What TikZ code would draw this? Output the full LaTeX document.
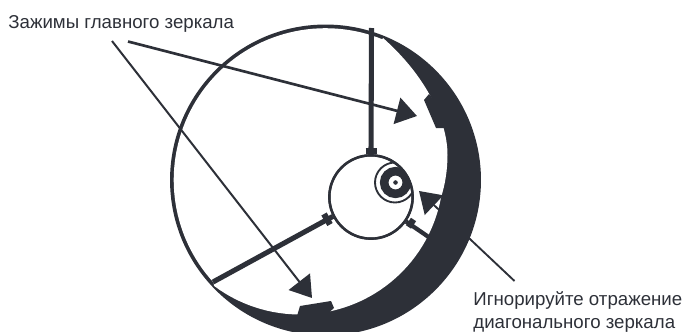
\documentclass[tikz,border=0pt]{standalone}
\usepackage{fontspec}
\setmainfont{Liberation Sans}
\usetikzlibrary{arrows.meta}
\definecolor{ink}{HTML}{2D3038}
\tikzset{
  ringnode/.style={draw=ink, circle, inner sep=0pt},
  vane/.style={draw=ink, line width=3.8pt},
  capbar/.style={draw=ink, line width=4.6pt},
  pointer/.style={draw=ink, -{Triangle[length=15.5pt,width=20pt,color=ink]}},
  caption/.style={inner sep=0pt, text=ink, font=\fontsize{14pt}{17.6pt}\selectfont, align=left},
  clipblock/.style={fill=ink, draw=none},
}
\begin{document}
\begin{tikzpicture}[x=0.75pt, y=-0.75pt, semithick]
\useasboundingbox (0,0) rectangle (682,332);
%
\fill[ink] (325.5,180) circle [radius=116.6pt];
\fill[white] plot[domain=-68:-222.5, samples=70] ({325.5+151.8*cos(\x)},{180+151.8*sin(\x)})
  -- plot[domain=126.8:10.4, samples=50] ({300+143.5*cos(\x)},{171+143.5*sin(\x)})
  .. controls (445,185) and (447.5,170) .. (447.5,155)
  .. controls (447.5,120) and (425,75) .. (383,38) -- cycle;
%
\node (Box) [ringnode, line width=1.8pt, minimum size=62.5pt, fill=white] at (371,197) {};
\begin{scope}
\clip (371,197) circle [radius=31.2pt];
\node (Ring) [ringnode, line width=1.4pt, minimum size=30pt] at (395,182.5) {};
\node (Disc) [ringnode, line width=6.4pt, minimum size=17pt] at (395.5,182.5) {};
\end{scope}
\node (Dot) [circle, fill=ink, inner sep=0pt, minimum size=3.4pt] at (395.5,182.5) {};
\node (BoxEdge) [ringnode, line width=1.8pt, minimum size=62.5pt] at (371,197) {};
%
\coordinate (VaneA) at (371.5,28);
\coordinate (VaneB) at (213,282);
\coordinate (VaneC) at (433,240);
\draw[vane] (VaneA) -- (Box.north);
\draw[vane] (VaneB) -- (Box.207);
\draw[vane, line width=3.2pt] (VaneC) -- (Box.-35);
\draw[capbar] (365.5,150.8) -- (377,150.8);
\draw[capbar] (324,214) -- (330,224.5);
\draw[capbar] (413.5,219.5) -- (408.5,227);
%
\fill[clipblock] (429,94) -- (424,100) -- (436,128) -- (445,128) -- (438,105) -- cycle;
\fill[clipblock] (300,306) -- (331,301) -- (334,308) -- (325,316) -- (297,316) -- cycle;
%
\node (Clips) [caption, anchor=base west] at (8,28) {Зажимы главного зеркала};
\node (Ignore) [caption, anchor=north west] at (473,291) {Игнорируйте отражение\\диагонального зеркала};
\coordinate (ClipsFootA) at (128,41.5);
\coordinate (ClipsFootB) at (112,41);
\coordinate (IgnoreFoot) at (514.5,281);
\coordinate (ClipTop) at (417,116);
\coordinate (ClipBottom) at (312,298);
\coordinate (Ghost) at (419,191);
\draw[pointer, line width=2pt] (ClipsFootA) -- (ClipTop);
\draw[pointer, line width=1.5pt] (ClipsFootB) -- (ClipBottom);
\draw[pointer, line width=1.4pt] (IgnoreFoot) -- (Ghost);
\end{tikzpicture}
\end{document}
